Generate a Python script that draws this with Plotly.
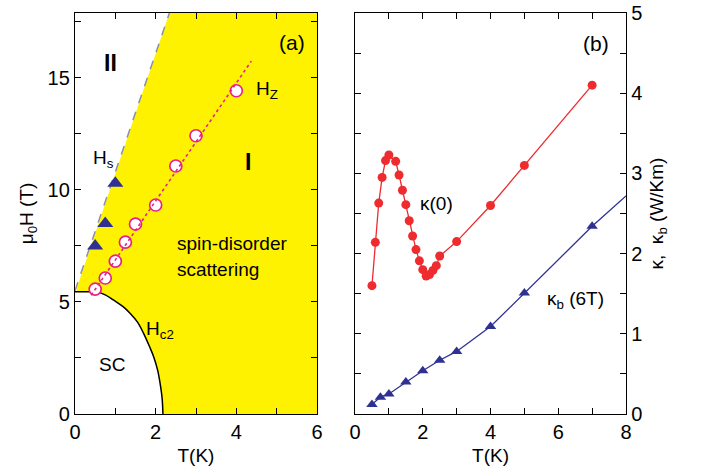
import plotly.graph_objects as go

# ---------------- data: panel (a) ----------------
hz_T = [0.5, 0.75, 1.0, 1.25, 1.5, 2.0, 2.5, 3.0, 4.0]
hz_H = [5.57, 6.07, 6.82, 7.67, 8.48, 9.33, 11.07, 12.42, 14.43]
hz_fit_T = [0.4, 4.37]
hz_fit_H = [5.3, 15.75]

hs_T = [0.5, 0.75, 1.0]
hs_H = [7.5, 8.5, 10.3]
hs_line_T = [0.0, 2.34]
hs_line_H = [5.5, 17.9]

hc2_T = [0.0, 0.3, 0.55, 0.75, 0.95, 1.2, 1.37, 1.55, 1.70, 1.85, 1.95, 2.05, 2.11, 2.16, 2.18]
hc2_H = [5.46, 5.46, 5.44, 5.32, 5.09, 4.78, 4.49, 4.1, 3.6, 3.0, 2.56, 1.95, 1.37, 0.7, 0.0]

# corners of the yellow (region I) beyond the Hc2 curve
region_T = [6.0, 6.0, 2.34, 0.04, 0.04]
region_H = [0.0, 17.9, 17.9, 5.6, 5.46]

# ---------------- data: panel (b) ----------------
k0_T = [0.5, 0.6, 0.7, 0.8, 0.9, 1.0, 1.2, 1.3, 1.4, 1.5, 1.6, 1.7, 1.8, 1.9, 2.0, 2.1,
        2.2, 2.3, 2.4, 2.5, 3.0, 4.0, 5.0, 7.0]
k0 = [1.60, 2.14, 2.63, 2.95, 3.16, 3.23, 3.15, 2.98, 2.79, 2.61, 2.41, 2.22, 2.05, 1.91,
      1.80, 1.72, 1.74, 1.79, 1.85, 1.97, 2.15, 2.60, 3.10, 4.10]

kb_T = [0.5, 0.75, 1.0, 1.5, 2.0, 2.5, 3.0, 4.0, 5.0, 7.0]
kb = [0.12, 0.21, 0.25, 0.40, 0.54, 0.67, 0.78, 1.09, 1.51, 2.34]
kb_line_T = kb_T + [8.0]
kb_line = kb + [2.72]

FONT = "Liberation Sans, Arial, sans-serif"
YELLOW = "#FFF200"
PINK = "#E8208C"
BLUE = "#2E3192"
RED = "#EE2B2E"
GREY = "#8A8FA8"

fig = go.Figure()

# yellow region I
fig.add_trace(go.Scatter(
    x=hc2_T + region_T, y=hc2_H + region_H, fill="toself", fillcolor=YELLOW,
    mode="lines", line=dict(width=0), hoverinfo="skip", showlegend=False,
    xaxis="x", yaxis="y"))
# Hs dashed line
fig.add_trace(go.Scatter(x=hs_line_T, y=hs_line_H, mode="lines",
                         line=dict(color=GREY, width=1.5, dash="dash"),
                         showlegend=False, xaxis="x", yaxis="y"))
# Hc2 curve
fig.add_trace(go.Scatter(x=hc2_T, y=hc2_H, mode="lines",
                         line=dict(color="black", width=1.5, shape="spline"),
                         showlegend=False, xaxis="x", yaxis="y"))
# Hz circles
fig.add_trace(go.Scatter(x=hz_T, y=hz_H, mode="markers",
                         marker=dict(symbol="circle", size=12, color="white",
                                     line=dict(color=PINK, width=1.7)),
                         showlegend=False, xaxis="x", yaxis="y"))
# Hz dotted fit
fig.add_trace(go.Scatter(x=hz_fit_T, y=hz_fit_H, mode="lines",
                         line=dict(color=PINK, width=1.6, dash="dot"),
                         showlegend=False, xaxis="x", yaxis="y"))
# Hs triangles
fig.add_trace(go.Scatter(x=hs_T, y=hs_H, mode="markers",
                         marker=dict(symbol="triangle-up", size=14, color=BLUE),
                         showlegend=False, xaxis="x", yaxis="y"))

# panel (b)
fig.add_trace(go.Scatter(x=k0_T, y=k0, mode="lines+markers",
                         line=dict(color=RED, width=1.3),
                         marker=dict(symbol="circle", size=9, color=RED),
                         showlegend=False, xaxis="x2", yaxis="y2"))
fig.add_trace(go.Scatter(x=kb_line_T, y=kb_line, mode="lines",
                         line=dict(color=BLUE, width=1.3),
                         showlegend=False, xaxis="x2", yaxis="y2"))
fig.add_trace(go.Scatter(x=kb_T, y=kb, mode="markers",
                         marker=dict(symbol="triangle-up", size=10, color=BLUE),
                         showlegend=False, xaxis="x2", yaxis="y2"))

axis_common = dict(showline=True, linecolor="black", linewidth=1.3, mirror="ticks",
                   ticks="inside", ticklen=6, tickwidth=1.2, tickcolor="black",
                   showgrid=False, zeroline=False, automargin=False,
                   tickfont=dict(family=FONT, size=20, color="black"))
minor_common = dict(ticks="inside", ticklen=6, tickwidth=1.2, tickcolor="black", showgrid=False)

fig.update_layout(
    width=705, height=476,
    margin=dict(l=75, r=79, t=13, b=62),
    plot_bgcolor="white", paper_bgcolor="white",
    font=dict(family=FONT, size=19, color="black"),
    xaxis=dict(domain=[0, 0.4392], range=[0, 6], dtick=2, anchor="y",
               minor=dict(dtick=1, **minor_common),
               title=dict(text="T(K)", standoff=6, font=dict(size=19)), **axis_common),
    yaxis=dict(range=[0, 17.9], dtick=5, anchor="x",
               minor=dict(dtick=2.5, **minor_common),
               title=dict(text="μ<sub>0</sub>H (T)", standoff=8, font=dict(size=19)), **axis_common),
    xaxis2=dict(domain=[0.5082, 1], range=[0, 8], dtick=2, anchor="y2",
                minor=dict(dtick=1, **minor_common),
                title=dict(text="T(K)", standoff=6, font=dict(size=19)), **axis_common),
    yaxis2=dict(range=[0, 5], dtick=1, anchor="x2", side="right",
                minor=dict(dtick=0.5, **minor_common),
                title=dict(text="κ,  κ<sub>b</sub> (W/Km)", standoff=8, font=dict(size=19)),
                **axis_common),
)

def ann(text, x, y, xref="x", yref="y", size=19, xanchor="center", **kw):
    fig.add_annotation(text=text, x=x, y=y, xref=xref, yref=yref, showarrow=False,
                       xanchor=xanchor, yanchor="middle",
                       font=dict(family=FONT, size=size, color="black"), **kw)

ann("(a)", 5.37, 16.6, size=21)
ann("<b>II</b>", 0.87, 15.65, size=23)
ann("<b>I</b>", 4.29, 11.23, size=23)
ann("H<sub>s</sub>", 0.7, 11.4)
ann("H<sub>Z</sub>", 4.75, 14.45)
ann("spin-disorder", 2.47, 7.6, xanchor="left")
ann("scattering", 2.47, 6.43, xanchor="left")
ann("H<sub>c2</sub>", 2.1, 3.75)
ann("SC", 0.92, 2.19)

ann("(b)", 7.11, 4.62, xref="x2", yref="y2", size=21)
ann("κ(0)", 2.42, 2.62, xref="x2", yref="y2")
ann("κ<sub>b</sub> (6T)", 5.62, 1.42, xref="x2", yref="y2", xanchor="left")

fig.write_html("out.html", config={"displayModeBar": False},
               post_script="document.body.style.margin='0px';document.body.style.overflow='hidden';")
